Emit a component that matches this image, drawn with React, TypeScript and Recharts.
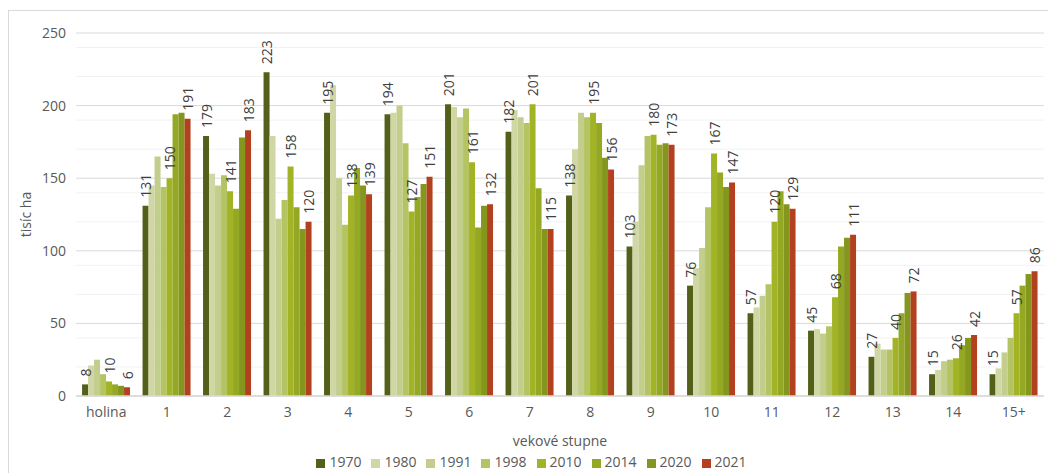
import React from 'react';
import { BarChart, Bar, XAxis, YAxis, CartesianGrid, Legend, LabelList } from 'recharts';

// vekové stupne (age classes)
const categories = ['holina', '1', '2', '3', '4', '5', '6', '7', '8', '9', '10', '11', '12', '13', '14', '15+'];

// area by age class, thousand ha
const v1970 = [8, 131, 179, 223, 195, 194, 201, 182, 138, 103, 76, 57, 45, 27, 15, 15];
const v1980 = [21, 145, 153, 179, 214, 195, 199, 197, 170, 120, 88, 61, 46, 36, 18, 19];
const v1991 = [25, 165, 145, 122, 150, 200, 192, 192, 195, 159, 102, 69, 43, 32, 24, 30];
const v1998 = [15, 144, 152, 135, 118, 174, 198, 188, 192, 179, 130, 77, 48, 32, 25, 40];
const v2010 = [10, 150, 141, 158, 138, 127, 161, 201, 195, 180, 167, 120, 68, 40, 26, 57];
const v2014 = [8, 194, 129, 130, 157, 137, 116, 143, 188, 173, 154, 141, 103, 57, 35, 76];
const v2020 = [7, 195, 178, 115, 145, 146, 131, 115, 164, 174, 144, 132, 109, 71, 40, 84];
const v2021 = [6, 191, 183, 120, 139, 151, 132, 115, 156, 173, 147, 129, 111, 72, 42, 86];

const years = ['1970', '1980', '1991', '1998', '2010', '2014', '2020', '2021'];
const colors = ['#52601a', '#d0d7a4', '#c3cd8c', '#b4c462', '#a2b326', '#94a823', '#85961f', '#b3401e'];
const labelled = ['1970', '2010', '2021'];

const yTicks = [0, 50, 100, 150, 200, 250];
const minorTicks = [10, 20, 30, 40, 60, 70, 80, 90, 110, 120, 130, 140, 160, 170, 180, 190, 210, 220, 230, 240];

const seriesValues = [v1970, v1980, v1991, v1998, v2010, v2014, v2020, v2021];

const data = categories.map((c, i) => {
  const row: Record<string, string | number> = { name: c };
  years.forEach((y, s) => {
    row[y] = seriesValues[s][i];
  });
  return row;
});

const FONT = '"Open Sans", sans-serif';
const TEXT = '#595959';

// value label standing vertically above the bar
const VerticalLabel = (props: any) => {
  const { x, y, width, value } = props;
  const cx = x + width / 2;
  const ty = y - 8;
  return (
    <text
      x={cx}
      y={ty}
      transform={`rotate(-90, ${cx}, ${ty})`}
      textAnchor="start"
      dominantBaseline="central"
      fill="#404040"
      fontSize={14}
      fontFamily={FONT}
    >
      {value}
    </text>
  );
};

const YTitle = (props: any) => {
  const vb = props.viewBox;
  const cy = vb.y + vb.height / 2;
  return (
    <text
      x={16}
      y={cy}
      transform={`rotate(-90, 16, ${cy})`}
      textAnchor="middle"
      dominantBaseline="central"
      fill={TEXT}
      fontSize={14}
      fontFamily={FONT}
    >
      tisíc ha
    </text>
  );
};

export default function App() {
  return (
    <div style={{ marginTop: 2, borderTop: '1px solid #d9d9d9', borderLeft: '1px solid #d9d9d9', width: 1047, fontFamily: FONT }}>
      <BarChart
        width={1046}
        height={462}
        data={data}
        margin={{ top: 22, right: 11, left: 0, bottom: 2 }}
        barCategoryGap="10%"
        barGap={0}
      >
        <CartesianGrid vertical={false} stroke="#f2f2f2" horizontalValues={minorTicks} />
        <CartesianGrid vertical={false} stroke="#d9d9d9" horizontalValues={yTicks} />
        <XAxis
          dataKey="name"
          tickLine={false}
          axisLine={{ stroke: '#d9d9d9', strokeWidth: 1.5 }}
          tick={{ fill: TEXT, fontSize: 14, fontFamily: FONT }}
          tickMargin={5}
          height={56}
          label={{ value: 'vekové stupne', position: 'insideBottom', offset: 6, fill: TEXT, fontSize: 14, fontFamily: FONT }}
        />
        <YAxis
          domain={[0, 250]}
          ticks={yTicks}
          width={67}
          tickLine={false}
          axisLine={false}
          tick={{ fill: TEXT, fontSize: 14, fontFamily: FONT }}
          tickMargin={4}
          label={<YTitle />}
        />
        <Legend
          verticalAlign="bottom"
          iconType="square"
          iconSize={9}
          wrapperStyle={{ fontSize: 14, fontFamily: FONT, color: TEXT, paddingLeft: 10 }}
          formatter={(v: string) => <span style={{ color: TEXT }}>{v}</span>}
        />
        {years.map((y, i) => (
          <Bar key={y} dataKey={y} fill={colors[i]} isAnimationActive={false}>
            {labelled.includes(y) && <LabelList dataKey={y} content={<VerticalLabel />} />}
          </Bar>
        ))}
      </BarChart>
    </div>
  );
}
